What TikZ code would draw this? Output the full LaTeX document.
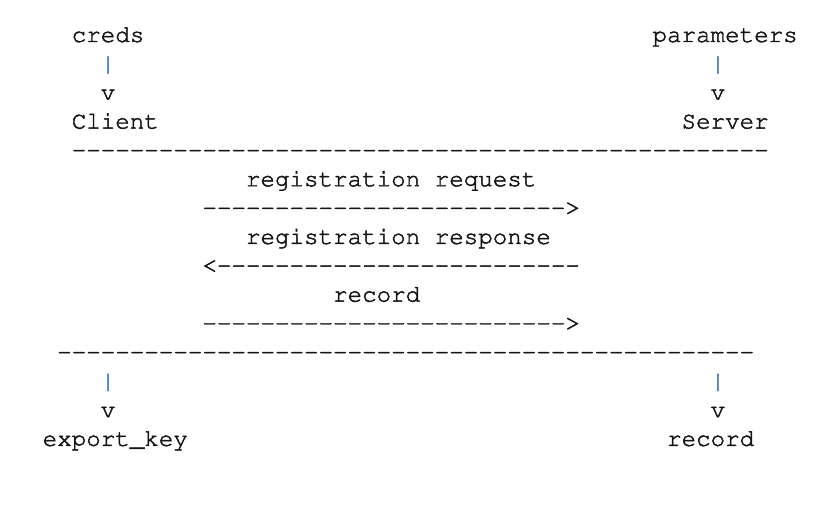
\documentclass[tikz,border=0pt]{standalone}
\usepackage[T1]{fontenc}
\usepackage{courier}
\definecolor{pipe-blue}{HTML}{3F6FBF}
\colorlet{ink}{black!92}
% one piece of text on the character grid: [opts]{name}{col}{row}{text}
\newcommand{\asciitext}[5][]{%
\node[ascii,#1] (#2) at (#3,#4) {\special{pdf:literal direct 2 Tr 0.45 w}#5\special{pdf:literal direct 0 Tr}};
}
% a run of hyphens, kept apart so no ligature forms
\newcommand{\asciidashes}[1]{\foreach \d in {1,...,#1}{-}}

\begin{document}
\begin{tikzpicture}[x=14.52pt, y=-28.85pt,
  ascii/.style={anchor=base west, inner sep=0pt, outer sep=0pt, text=ink,
    font=\ttfamily\fontsize{24.2}{29}\selectfont},
  pipe/.style={text=pipe-blue}]
\useasboundingbox (-42.7pt,42pt) rectangle (785.3pt,-463pt);
% top: inputs into both parties
\asciitext{creds}{2}{0}{creds}
\asciitext{params}{42}{0}{parameters}
\asciitext[pipe]{credspipe}{4}{1}{|}
\asciitext[pipe]{paramspipe}{46}{1}{|}
\asciitext{credsv}{4}{2}{v}
\asciitext{paramsv}{46}{2}{v}
\asciitext{client}{2}{3}{Client}
\asciitext{server}{44}{3}{Server}
\asciitext{topline}{2}{4}{\asciidashes{48}}
% messages
\asciitext{reqlabel}{14}{5}{registration request}
\asciitext{req}{11}{6}{\asciidashes{25}>}
\asciitext{resplabel}{14}{7}{registration response}
\asciitext{resp}{11}{8}{<\asciidashes{25}}
\asciitext{reclabel}{20}{9}{record}
\asciitext{rec}{11}{10}{\asciidashes{25}>}
\asciitext{bottomline}{1}{11}{\asciidashes{48}}
% bottom: outputs
\asciitext[pipe]{keypipe}{4}{12}{|}
\asciitext[pipe]{recordpipe}{46}{12}{|}
\asciitext{keyv}{4}{13}{v}
\asciitext{recordv}{46}{13}{v}
\asciitext{exportkey}{0}{14}{export\_key}
\asciitext{record}{43}{14}{record}
\end{tikzpicture}
\end{document}
